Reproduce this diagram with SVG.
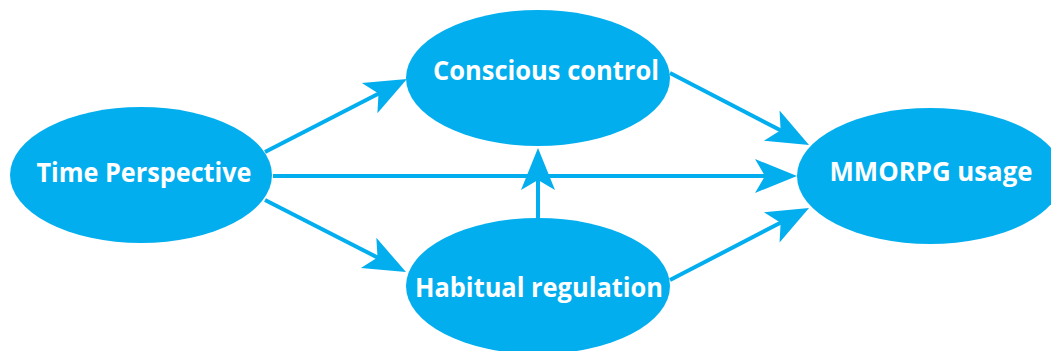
<svg xmlns="http://www.w3.org/2000/svg" width="1051" height="351" viewBox="0 0 1051 351">
  <style>
    .node { fill: #03AEEF; }
    .label { fill: #FFFFFF; font-family: "Open Sans", "Liberation Sans", sans-serif; font-weight: 700; font-size: 26px; text-anchor: middle; }
    .edge { stroke: #03AEEF; stroke-width: 4; fill: none; marker-end: url(#head); }
  </style>
  <defs>
    <!-- notched arrowhead; tip sits 30px beyond the end of the line -->
    <marker id="head" markerUnits="userSpaceOnUse" viewBox="-15 -20 50 40" markerWidth="50" markerHeight="40" refX="0" refY="0" orient="auto" overflow="visible">
      <path d="M30,0 L-12,-17 L-2,0 L-12,17 Z" fill="#03AEEF"/>
    </marker>
  </defs>
  <rect width="1051" height="351" fill="#FFFFFF"/>

  <g id="connectors">
    <line class="edge" x1="265" y1="152" x2="380.3" y2="92.7"/>
    <line class="edge" x1="273" y1="176" x2="767" y2="176"/>
    <line class="edge" x1="265" y1="200" x2="379.3" y2="258.4"/>
    <line class="edge" x1="670" y1="73" x2="782.4" y2="131.2"/>
    <line class="edge" x1="670" y1="280" x2="782.4" y2="221.8"/>
    <line class="edge" x1="538" y1="218" x2="538" y2="178"/>
  </g>

  <g id="time-perspective">
    <ellipse class="node" cx="141" cy="175" rx="131" ry="68"/>
    <text class="label" x="144" y="182" textLength="215" lengthAdjust="spacingAndGlyphs">Time Perspective</text>
  </g>
  <g id="conscious-control">
    <ellipse class="node" cx="538" cy="78" rx="132" ry="68"/>
    <text class="label" x="546" y="80" textLength="226" lengthAdjust="spacingAndGlyphs">Conscious control</text>
  </g>
  <g id="habitual-regulation">
    <ellipse class="node" cx="538" cy="286" rx="132" ry="68"/>
    <text class="label" x="539" y="297" textLength="248" lengthAdjust="spacingAndGlyphs">Habitual regulation</text>
  </g>
  <g id="mmorpg-usage">
    <ellipse class="node" cx="930" cy="176" rx="133" ry="68"/>
    <text class="label" x="931" y="181" textLength="203" lengthAdjust="spacingAndGlyphs">MMORPG usage</text>
  </g>
</svg>
